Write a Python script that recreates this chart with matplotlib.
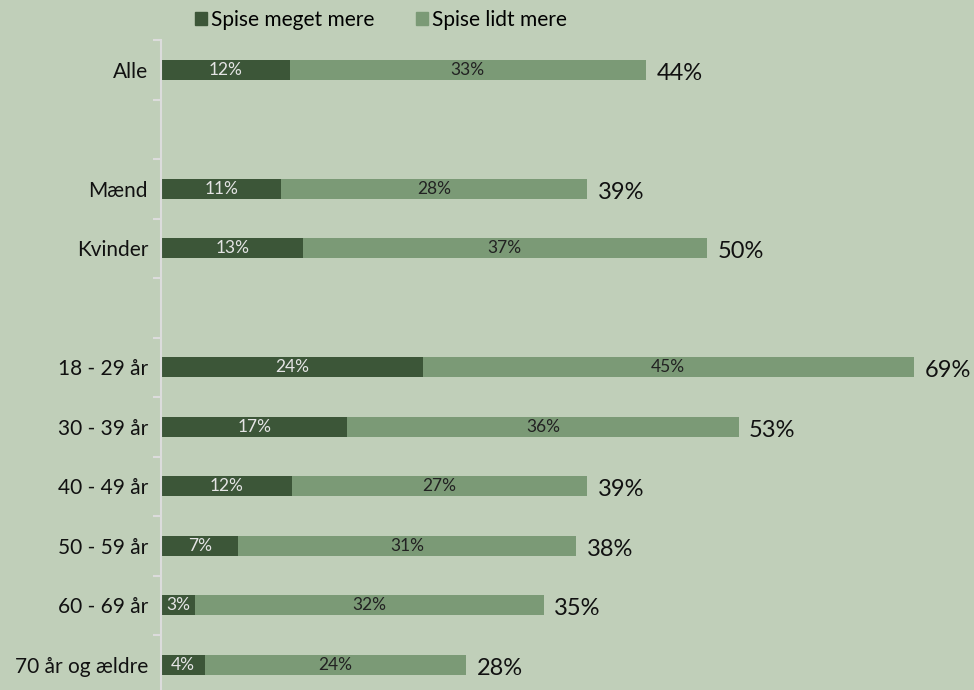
import matplotlib
matplotlib.use("Agg")
import matplotlib.pyplot as plt
from matplotlib.patches import Patch

# Categories in top-to-bottom order; None marks an empty gap row
categories = ["Alle", None, "Mænd", "Kvinder", None,
              "18 - 29 år", "30 - 39 år", "40 - 49 år", "50 - 59 år",
              "60 - 69 år", "70 år og ældre"]

# Bar segment lengths (in %)
meget_mere = [11.7, 10.9, 12.9, 23.9, 17.0, 11.9, 7.0, 3.0, 3.9]
lidt_mere = [32.7, 28.1, 37.1, 45.1, 35.9, 27.1, 31.0, 32.0, 24.0]

# Printed labels
meget_labels = [12, 11, 13, 24, 17, 12, 7, 3, 4]
lidt_labels = [33, 28, 37, 45, 36, 27, 31, 32, 24]
total_labels = [44, 39, 50, 69, 53, 39, 38, 35, 28]

BG = "#c0cfb9"
DARK = "#3c5638"
LIGHT = "#7b9a76"
AXIS = "#dcdcdc"

plt.rcParams["font.family"] = ["Lato", "DejaVu Sans"]

fig = plt.figure(figsize=(9.74, 6.90), dpi=100)
fig.patch.set_facecolor(BG)
ax = fig.add_axes([162 / 974, -4.5 / 690, 812 / 974, 654.5 / 690])
ax.set_facecolor(BG)

rows = [i for i, c in enumerate(categories) if c is not None]
labels = [c for c in categories if c is not None]

bar_h = 0.34
ax.barh(rows, meget_mere, height=bar_h, color=DARK)
ax.barh(rows, lidt_mere, left=meget_mere, height=bar_h, color=LIGHT)

for y, d, l, dl, ll, tl in zip(rows, meget_mere, lidt_mere,
                                meget_labels, lidt_labels, total_labels):
    ax.text(d / 2, y, f"{dl}%", ha="center", va="center",
            fontsize=12.5, color="#e4e4e4")
    ax.text(d + l / 2, y, f"{ll}%", ha="center", va="center",
            fontsize=12.5, color="#222222")
    ax.text(d + l + 0.95, y + 0.06, f"{tl}%", ha="left", va="center",
            fontsize=17, color="#111111")

ax.set_xlim(0, 812 / 10.9)
ax.set_ylim(len(categories) - 0.5, -0.5)

# boundary ticks on the axis line, labels on the category rows
ax.set_yticks([i - 0.5 for i in range(len(categories))])
ax.set_yticklabels([])
ax.tick_params(axis="y", which="major", length=6, width=1.5, color=AXIS)
ax.set_yticks(rows, minor=True)
ax.set_yticklabels(labels, minor=True)
ax.tick_params(axis="y", which="minor", length=0, pad=9,
               labelsize=15, labelcolor="#111111")

ax.set_xticks([])
for s in ["top", "right", "bottom"]:
    ax.spines[s].set_visible(False)
ax.spines["left"].set_color(AXIS)
ax.spines["left"].set_linewidth(1.5)
ax.spines["left"].set_position(("outward", 1))

handles = [Patch(color=DARK, label="Spise meget mere"),
           Patch(color=LIGHT, label="Spise lidt mere")]
fig.legend(handles=handles, loc="center", bbox_to_anchor=(381 / 974, 1 - 20 / 690),
           ncol=2, frameon=False, fontsize=15, handlelength=0.55, handleheight=0.55,
           handletextpad=0.2, columnspacing=2.0)

fig.savefig("out.png", dpi=100, facecolor=BG)
